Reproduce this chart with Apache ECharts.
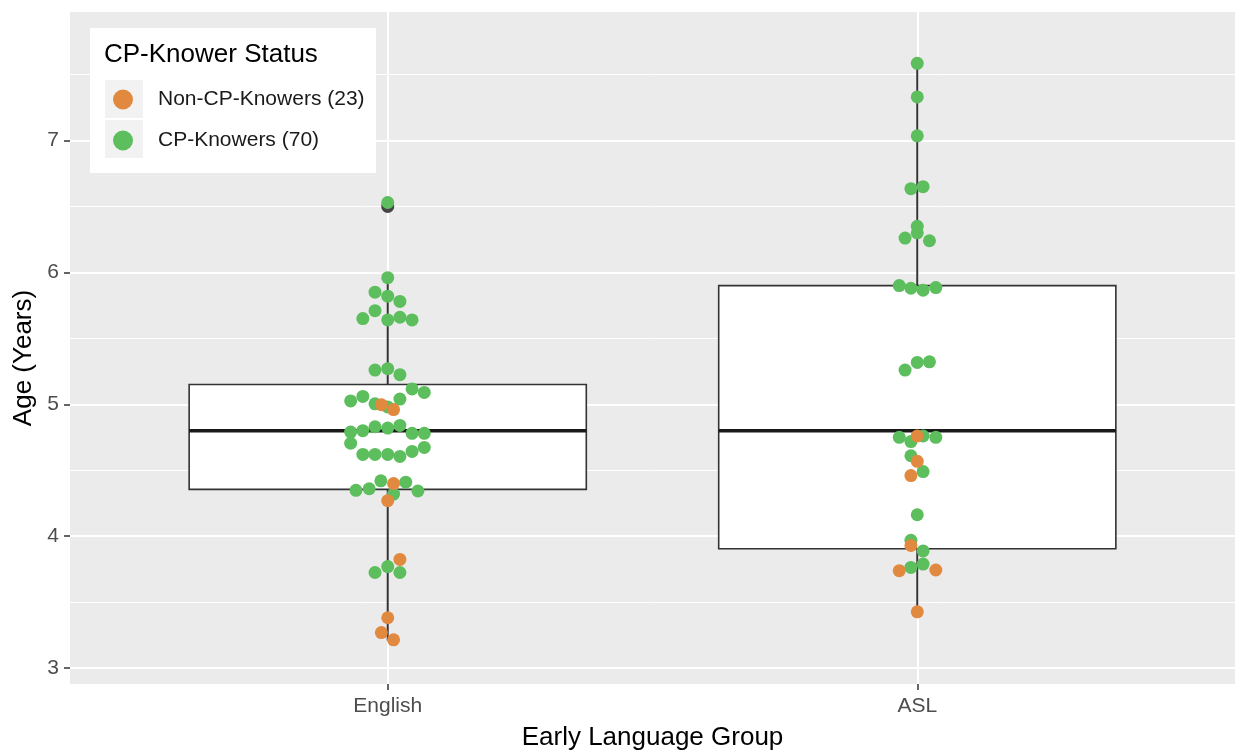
<!DOCTYPE html>
<html>
<head>
<meta charset="utf-8">
<script src="https://cdn.jsdelivr.net/npm/echarts@6/dist/echarts.min.js"></script>
<style>
  html, body { margin: 0; padding: 0; background: #ffffff; }
  #chart { width: 1235px; height: 756px; }
</style>
</head>
<body>
<div id="chart"></div>
<script>
// ---- Data ----
const categories = ['English', 'ASL'];
const yTicks = [3, 4, 5, 6, 7];
const yMinorLines = [3.5, 4.5, 5.5, 6.5, 7.5];

// Box statistics per group (English, ASL)
const whiskerLow  = [3.21, 3.43];
const quartile1   = [4.355, 3.905];
const medianAge   = [4.80, 4.80];
const quartile3   = [5.15, 5.90];
const whiskerHigh = [5.96, 7.585];

// Boxplot outlier: [group index, age]
const outliers = [[1, 6.50]];

// Dot positions: [horizontal dodge offset (category units), age]
const englishCP = [
  [0, 6.53], [0, 5.96], [-0.024, 5.85], [0, 5.82], [0.023, 5.78],
  [-0.024, 5.71], [-0.047, 5.65], [0, 5.64], [0.023, 5.66], [0.046, 5.64],
  [-0.024, 5.26], [0, 5.27], [0.023, 5.225], [0.046, 5.117], [0.069, 5.09],
  [-0.070, 5.026], [-0.047, 5.06], [-0.024, 5.004], [0, 4.98], [0.023, 5.04],
  [-0.070, 4.79], [-0.047, 4.80], [-0.024, 4.83], [0, 4.82], [0.023, 4.84],
  [0.046, 4.78], [0.069, 4.78], [-0.070, 4.705],
  [-0.047, 4.62], [-0.024, 4.62], [0, 4.62], [0.023, 4.605], [0.046, 4.643], [0.069, 4.673],
  [-0.060, 4.348], [-0.035, 4.36], [-0.013, 4.42], [0.034, 4.41], [0.011, 4.32], [0.057, 4.343],
  [0, 3.77], [-0.024, 3.725], [0.023, 3.725]
];
const englishNonCP = [
  [-0.012, 4.997], [0.011, 4.96], [0.011, 4.40], [0, 4.27],
  [0.023, 3.824], [0, 3.382], [-0.012, 3.27], [0.011, 3.215]
];
const aslCP = [
  [0, 7.585], [0, 7.33], [0, 7.035], [-0.012, 6.635], [0.011, 6.65],
  [0, 6.35], [0, 6.30], [-0.023, 6.26], [0.023, 6.24],
  [-0.034, 5.90], [-0.012, 5.88], [0.011, 5.865], [0.035, 5.885],
  [-0.023, 5.26], [0, 5.318], [0.023, 5.322],
  [-0.034, 4.75], [-0.012, 4.718], [0.011, 4.76], [0.035, 4.75],
  [-0.012, 4.61], [0.011, 4.49], [0, 4.163], [-0.012, 3.969],
  [0.011, 3.889], [0.011, 3.789], [-0.012, 3.764]
];
const aslNonCP = [
  [0, 4.76], [0, 4.568], [-0.012, 4.46], [-0.012, 3.93],
  [-0.034, 3.739], [0.035, 3.744], [0, 3.427]
];

const seriesNames = ['Non-CP-Knowers (23)', 'CP-Knowers (70)'];

// ---- Build library data from the arrays ----
const boxData = categories.map((c, i) => [i + 1, whiskerLow[i], quartile1[i], medianAge[i], quartile3[i], whiskerHigh[i]]);
function place(group, pts) { return pts.map(p => [group + p[0], p[1]]); }
const cpData = place(1, englishCP).concat(place(2, aslCP));
const nonCpData = place(1, englishNonCP).concat(place(2, aslNonCP));

const BOX_HALF = 0.375;
const FONT = "'Liberation Sans', Arial, Helvetica, sans-serif";

function renderBox(params, api) {
  const x = api.value(0);
  const pLow = api.coord([x, api.value(1)]);
  const pQ1 = api.coord([x, api.value(2)]);
  const pMed = api.coord([x, api.value(3)]);
  const pQ3 = api.coord([x, api.value(4)]);
  const pHigh = api.coord([x, api.value(5)]);
  const half = api.size([BOX_HALF, 0])[0];
  const ink = '#333333';
  return {
    type: 'group',
    children: [
      { type: 'line', shape: { x1: pLow[0], y1: pLow[1], x2: pQ1[0], y2: pQ1[1] }, style: { stroke: ink, lineWidth: 2 } },
      { type: 'line', shape: { x1: pQ3[0], y1: pQ3[1], x2: pHigh[0], y2: pHigh[1] }, style: { stroke: ink, lineWidth: 2 } },
      { type: 'rect', shape: { x: pQ3[0] - half, y: pQ3[1], width: 2 * half, height: pQ1[1] - pQ3[1] },
        style: { fill: '#ffffff', stroke: ink, lineWidth: 1.6 } },
      { type: 'line', shape: { x1: pMed[0] - half, y1: pMed[1], x2: pMed[0] + half, y2: pMed[1] },
        style: { stroke: '#1a1a1a', lineWidth: 3.5 } }
    ]
  };
}

const gridLineData = []
  .concat(yTicks.map(v => ({ yAxis: v, lineStyle: { color: '#ffffff', width: 2, type: 'solid' } })))
  .concat(yMinorLines.map(v => ({ yAxis: v, lineStyle: { color: '#ffffff', width: 1, type: 'solid' } })))
  .concat(categories.map((c, i) => ({ xAxis: i + 1, lineStyle: { color: '#ffffff', width: 2, type: 'solid' } })));

const chart = echarts.init(document.getElementById('chart'), null, { renderer: 'canvas' });
chart.setOption({
  animation: false,
  backgroundColor: '#ffffff',
  textStyle: { fontFamily: FONT },
  title: {
    text: 'CP-Knower Status',
    left: 104, top: 42, padding: 0, z: 8,
    textStyle: { fontFamily: FONT, fontSize: 26, fontWeight: 'normal', color: '#000000' }
  },
  legend: {
    data: seriesNames,
    orient: 'vertical',
    left: 113, top: 89,
    padding: 0,
    itemWidth: 20, itemHeight: 20, itemGap: 20,
    icon: 'circle',
    z: 8,
    selectedMode: false,
    textStyle: { fontFamily: FONT, fontSize: 21, color: '#1a1a1a', lineHeight: 20, padding: [0, 0, 0, 20] }
  },
  graphic: [
    { type: 'rect', left: 90, top: 28, z: 6, shape: { width: 286, height: 145 }, style: { fill: '#ffffff' } },
    { type: 'rect', left: 105, top: 80, z: 7, shape: { width: 38, height: 38 }, style: { fill: '#F2F2F2' } },
    { type: 'rect', left: 105, top: 120, z: 7, shape: { width: 38, height: 38 }, style: { fill: '#F2F2F2' } }
  ],
  grid: {
    left: 70, right: 0, top: 12, bottom: 64,
    show: true, backgroundColor: '#EBEBEB', borderWidth: 0,
    containLabel: false
  },
  xAxis: {
    type: 'value',
    min: 0.4, max: 2.6,
    name: 'Early Language Group',
    nameLocation: 'middle',
    nameGap: 41,
    nameTextStyle: { fontFamily: FONT, fontSize: 26, color: '#000000' },
    axisLine: { show: false },
    axisTick: { show: true, customValues: categories.map((c, i) => i + 1), length: 6, lineStyle: { color: '#333333', width: 1.5 } },
    axisLabel: {
      customValues: categories.map((c, i) => i + 1),
      formatter: v => categories[Math.round(v) - 1] || '',
      margin: 12, fontFamily: FONT, fontSize: 21, color: '#4D4D4D'
    },
    splitLine: { show: false }
  },
  yAxis: {
    type: 'value',
    min: 2.88, max: 7.974,
    name: 'Age (Years)',
    nameLocation: 'middle',
    nameGap: 25,
    nameTextStyle: { fontFamily: FONT, fontSize: 26, color: '#000000', padding: [0, 20, 0, 0] },
    axisLine: { show: false },
    axisTick: { show: true, customValues: yTicks, length: 6, lineStyle: { color: '#333333', width: 1.5 } },
    axisLabel: { customValues: yTicks, margin: 11, fontFamily: FONT, fontSize: 21, color: '#4D4D4D' },
    splitLine: { show: false }
  },
  series: [
    {
      name: 'box',
      type: 'custom',
      renderItem: renderBox,
      data: boxData,
      encode: { x: 0, y: [1, 2, 3, 4, 5] },
      z: 2,
      silent: true,
      markLine: {
        silent: true,
        symbol: 'none',
        z: 1,
        animation: false,
        label: { show: false },
        emphasis: { disabled: true },
        data: gridLineData
      }
    },
    {
      name: 'outlier',
      type: 'scatter',
      data: outliers,
      symbolSize: 13,
      itemStyle: { color: '#1a1a1a' },
      z: 2.5,
      silent: true
    },
    {
      name: seriesNames[1],
      type: 'scatter',
      data: cpData,
      symbolSize: 13,
      itemStyle: { color: '#5CBE5C', opacity: 1 },
      z: 3
    },
    {
      name: seriesNames[0],
      type: 'scatter',
      data: nonCpData,
      symbolSize: 13,
      itemStyle: { color: '#E1893F', opacity: 1 },
      z: 4
    }
  ]
});
</script>
</body>
</html>
